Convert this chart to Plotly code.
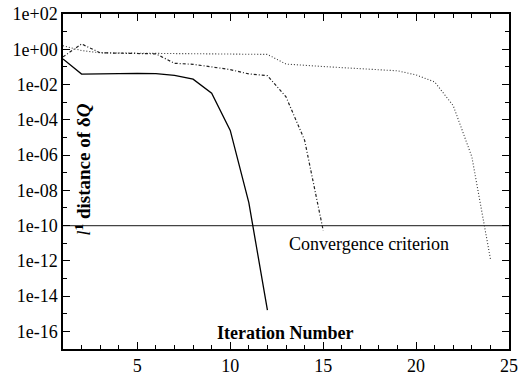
import plotly.graph_objects as go

# ---- data ----
iter_fast = list(range(1, 13))
dist_fast = [2.8e-1, 3.9e-2, 4.0e-2, 4.3e-2, 4.3e-2, 4.2e-2, 3.3e-2, 2.0e-2, 3.2e-3, 2.5e-5, 2.0e-9, 1.6e-15]

iter_mid = list(range(1, 16))
dist_mid = [3.7e-1, 2.0e0, 6.3e-1, 6.0e-1, 5.8e-1, 5.5e-1, 1.6e-1, 1.4e-1, 1.0e-1, 7.0e-2, 4.0e-2,
            3.2e-2, 2.0e-3, 7.0e-6, 5.4e-11]

iter_slow = list(range(1, 25))
dist_slow = [1.6e0, 8.5e-1, 6.3e-1, 6.0e-1, 5.9e-1, 5.8e-1, 5.7e-1, 5.6e-1, 5.5e-1, 5.4e-1, 5.3e-1,
             5.1e-1, 1.45e-1, 1.2e-1, 1.05e-1, 9.1e-2, 7.9e-2, 7.1e-2, 6.0e-2, 3.5e-2, 1.4e-2,
             6.3e-4, 8.0e-7, 1.3e-12]

criterion = 1e-10
x_range = [1, 25]
x_ticks = [5, 10, 15, 20, 25]
y_ticks = [1e2, 1e0, 1e-2, 1e-4, 1e-6, 1e-8, 1e-10, 1e-12, 1e-14, 1e-16]
y_ticklabels = ["1e+02", "1e+00", "1e-02", "1e-04", "1e-06", "1e-08", "1e-10", "1e-12", "1e-14", "1e-16"]
y_minor = [1e1, 1e-1, 1e-3, 1e-5, 1e-7, 1e-9, 1e-11, 1e-13, 1e-15, 1e-17]
x_minor = [2, 3, 4, 6, 7, 8, 9, 11, 12, 13, 14, 16, 17, 18, 19, 21, 22, 23, 24]

FONT = "Liberation Serif"

fig = go.Figure()
fig.add_trace(go.Scatter(x=x_range, y=[criterion, criterion], mode="lines",
                         line=dict(color="#444444", width=1.2), showlegend=False))
fig.add_trace(go.Scatter(x=iter_slow, y=dist_slow, mode="lines",
                         line=dict(color="#333333", width=1.1, dash="1px,2px"), showlegend=False))
fig.add_trace(go.Scatter(x=iter_mid, y=dist_mid, mode="lines",
                         line=dict(color="#222222", width=1.2, dash="3px,2px,1px,2px"), showlegend=False))
fig.add_trace(go.Scatter(x=iter_fast, y=dist_fast, mode="lines",
                         line=dict(color="black", width=1.3), showlegend=False))

fig.update_layout(
    width=519, height=379,
    margin=dict(l=63, r=10, t=14, b=30, autoexpand=False),
    paper_bgcolor="white", plot_bgcolor="white",
    font=dict(family=FONT, size=18, color="black"),
    xaxis=dict(range=x_range, tickmode="array", tickvals=x_ticks, ticks="inside", ticklen=7, tickwidth=1,
               tickcolor="black", automargin=False,
               showline=True, linecolor="black", linewidth=1.5, mirror="all",
               showgrid=False, zeroline=False,
               minor=dict(tickmode="array", tickvals=x_minor, ticks="inside", ticklen=4,
                          tickwidth=1, tickcolor="black", showgrid=False)),
    yaxis=dict(type="log", range=[-17, 2], tickmode="array", tickvals=y_ticks, ticktext=y_ticklabels,
               ticks="inside", ticklen=7, tickwidth=1, tickcolor="black", automargin=False,
               showline=True, linecolor="black", linewidth=1.5, mirror="all",
               showgrid=False, zeroline=False,
               minor=dict(tickmode="array", tickvals=y_minor, ticks="inside", ticklen=4,
                          tickwidth=1, tickcolor="black", showgrid=False)),
    annotations=[
        dict(text="Convergence criterion", x=13.05, y=-11.07, xref="x", yref="y",
             xanchor="left", yanchor="middle", showarrow=False, font=dict(size=18)),
        dict(text="<b>Iteration Number</b>", x=0.498, y=0.048, xref="paper", yref="paper",
             xanchor="center", yanchor="middle", showarrow=False, font=dict(size=18)),
        dict(text="<i>l</i><b><sup>1</sup> distance of δ<i>Q</i></b>", x=0.044, y=0.534,
             xref="paper", yref="paper", xanchor="center", yanchor="middle",
             textangle=-90, showarrow=False, font=dict(size=19)),
    ],
)

fig.write_html("out.html", config={"displayModeBar": False},
               post_script="document.body.style.margin='0';")
